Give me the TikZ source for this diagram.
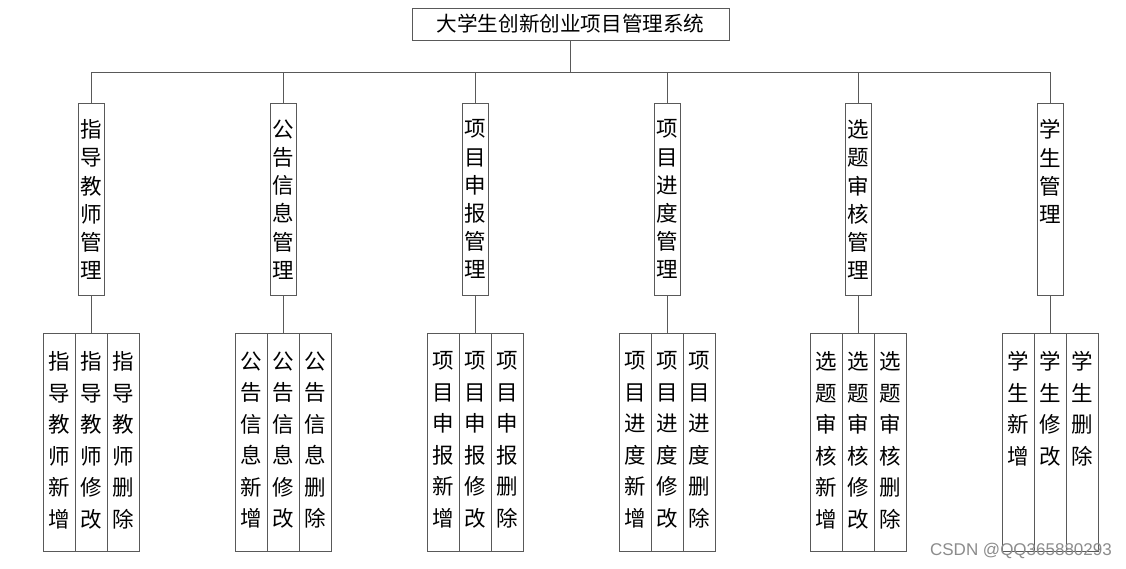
\documentclass[tikz,border=0pt]{standalone}
\usepackage{fontspec}
\setmainfont{Noto Sans CJK SC}
\newfontfamily\wmfont{Liberation Sans}
\begin{document}
\begin{tikzpicture}[x=1pt,y=-1pt,
  boxline/.style={draw=black!65,line width=1pt},
  titlebox/.style={boxline,minimum width=317pt,minimum height=32pt,inner sep=0pt,
     font=\fontsize{20.6}{24}\selectfont},
  modbox/.style={boxline,minimum width=26pt,minimum height=192pt,inner sep=0pt},
  leafbox/.style={boxline,minimum width=32pt,minimum height=218pt,inner sep=0pt},
  modtext/.style={anchor=north,inner sep=0pt,align=center,font=\fontsize{21.5}{28.2}\selectfont},
  leaftext/.style={anchor=north,inner sep=0pt,align=center,font=\fontsize{21.5}{31.5}\selectfont},
  conn/.style={draw=black!65,line width=1pt}]
\useasboundingbox (0,0) rectangle (1126,568);
\fill[white] (0,0) rectangle (1126,568);

\node[titlebox] (T) at (570.5,24) {大学生创新创业项目管理系统};
\coordinate (bus) at (570.5,72);
\draw[conn] (T.south) -- (bus);

% modules
\foreach \i/\cx/\txt/\la/\lb/\lc in {
  1/91/{指\\导\\教\\师\\管\\理}/{指\\导\\教\\师\\新\\增}/{指\\导\\教\\师\\修\\改}/{指\\导\\教\\师\\删\\除},
  2/283/{公\\告\\信\\息\\管\\理}/{公\\告\\信\\息\\新\\增}/{公\\告\\信\\息\\修\\改}/{公\\告\\信\\息\\删\\除},
  3/475/{项\\目\\申\\报\\管\\理}/{项\\目\\申\\报\\新\\增}/{项\\目\\申\\报\\修\\改}/{项\\目\\申\\报\\删\\除},
  4/667/{项\\目\\进\\度\\管\\理}/{项\\目\\进\\度\\新\\增}/{项\\目\\进\\度\\修\\改}/{项\\目\\进\\度\\删\\除},
  5/858/{选\\题\\审\\核\\管\\理}/{选\\题\\审\\核\\新\\增}/{选\\题\\审\\核\\修\\改}/{选\\题\\审\\核\\删\\除},
  6/1050/{学\\生\\管\\理}/{学\\生\\新\\增}/{学\\生\\修\\改}/{学\\生\\删\\除}}{
  \node[modbox] (m\i) at (\cx,199) {};
  \node[modtext] (mt\i) at ([yshift=-17pt]m\i.north) {\txt};
  \node[leafbox] (a\i) at (\cx-32,442) {};
  \node[leafbox] (b\i) at (\cx,442) {};
  \node[leafbox] (c\i) at (\cx+32,442) {};
  \node[leaftext] (at\i) at ([yshift=-19pt]a\i.north) {\la};
  \node[leaftext] (bt\i) at ([yshift=-19pt]b\i.north) {\lb};
  \node[leaftext] (ct\i) at ([yshift=-19pt]c\i.north) {\lc};
  \draw[conn] (m\i.north) -- (m\i.north |- bus);
  \draw[conn] (m\i.south) -- (b\i.north);
}
\draw[conn] (m1.north |- bus) -- (m6.north |- bus);

\node[anchor=east,inner sep=0pt,text=black!45,font=\wmfont\fontsize{17}{19}\selectfont] (wm) at (1112,551) {CSDN @QQ365880293};
\end{tikzpicture}
\end{document}
